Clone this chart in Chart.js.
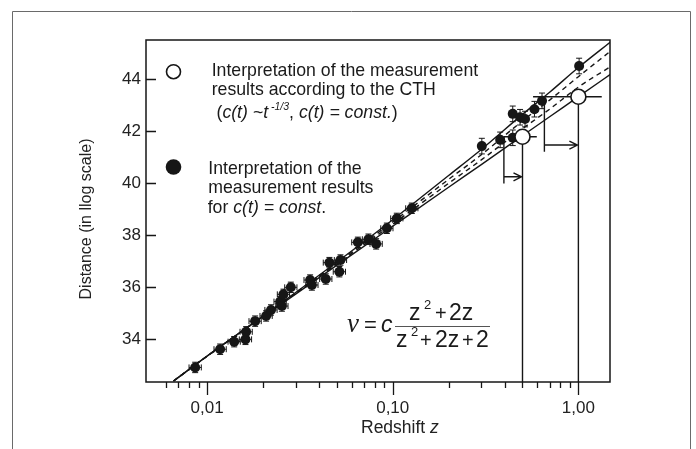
<!DOCTYPE html>
<html><head><meta charset="utf-8">
<script src="https://cdn.jsdelivr.net/npm/chart.js@4/dist/chart.umd.min.js"></script>
<style>html,body{margin:0;padding:0;background:#fff}#wrap{width:696px;height:449px;position:relative}</style>
</head><body><div id="wrap"><canvas id="c" width="696" height="449"></canvas></div>
<script>
// ---- data ----
const redshift = [0.00863,0.01176,0.0140,0.0161,0.01624,0.01815,0.0208,0.0221,0.02475,0.02579,0.02826,0.0253,0.0359,0.0367,0.0436,0.0456,0.0516,0.0523,0.0649,0.0740,0.0814,0.0930,0.1052,0.1267,0.302,0.379,0.443,0.485,0.516,0.443,0.580,0.637,1.009];
const distance = [32.92,33.62,33.91,34.00,34.29,34.70,34.90,35.13,35.45,35.73,36.00,35.28,36.28,36.09,36.32,36.95,36.60,37.05,37.73,37.85,37.67,38.27,38.65,39.04,41.43,41.67,42.67,42.54,42.47,41.75,42.85,43.17,44.51];
const distanceErr = [0.2,0.2,0.2,0.2,0.2,0.2,0.2,0.2,0.2,0.2,0.2,0.2,0.2,0.2,0.2,0.2,0.2,0.2,0.2,0.2,0.2,0.2,0.2,0.2,0.3,0.3,0.3,0.3,0.3,0.3,0.3,0.3,0.3];
const redshiftErrDex = [0.033,0.033,0.033,0.033,0.033,0.033,0.033,0.033,0.033,0.033,0.033,0.033,0.033,0.033,0.033,0.033,0.033,0.033,0.033,0.033,0.033,0.033,0.033,0.033,0,0,0,0,0,0,0,0,0];

const cthRedshift = [0.5, 1.0];
const cthDistance = [41.79, 43.33];

const curveRedshift = [0.0066,0.01,0.03,0.1,0.2,0.3,0.5,0.7,1.0,1.5];
const upperSolid  = [32.40,33.35,35.80,38.60,40.30,41.30,42.65,43.50,44.45,45.45];
const upperDashed = [32.40,33.35,35.79,38.52,40.15,41.10,42.40,43.20,44.10,45.10];
const lowerDashed = [32.40,33.35,35.77,38.43,40.00,40.90,42.10,42.85,43.70,44.50];
const lowerSolid  = [32.40,33.36,35.74,38.35,39.85,40.72,41.83,42.56,43.33,44.21];

const xTickValues = [0.006,0.007,0.008,0.009,0.01,0.02,0.03,0.04,0.05,0.06,0.07,0.08,0.09,0.1,0.2,0.3,0.4,0.5,0.6,0.7,0.8,0.9,1.0];
const xMajorValues = [0.01, 0.1, 1.0];
const xMajorLabels = ['0,01','0,10','1,00'];
const yTickValues = [34,36,38,40,42,44];

// annotation values (data units)
const bracketRedshift = [0.397, 0.656];
const bracketTop = [41.79, 43.27];
const bracketBottom = [39.99, 41.21];
const arrowDistance = [40.25, 41.47];
const hLineFrom = [0.397, 0.570];
const hLineTo = [0.597, 1.336];

const INK = '#161616';
const SANS = '"Liberation Sans", Arial, sans-serif';
const SERIF = '"Liberation Serif", "Times New Roman", serif';

function pts(xs, ys){ return xs.map((x,i)=>({x:x, y:ys[i]})); }

function runs(ctx, x, y, parts){
  // parts: [text, style, size, dy, family]
  let cx = x;
  for (const p of parts){
    ctx.font = (p[1]||'') + ' ' + (p[2]||17) + 'px ' + (p[4]||SANS);
    ctx.fillText(p[0], cx, y + (p[3]||0));
    cx += ctx.measureText(p[0]).width;
  }
  return cx;
}
function tok(ctx, text, x, y, font){ ctx.font = font; ctx.fillText(text, x, y); }

const decor = {
  id:'decor',
  beforeDatasetsDraw(chart){
    const ctx = chart.ctx, xs = chart.scales.x, ys = chart.scales.y, a = chart.chartArea;
    ctx.save();
    ctx.strokeStyle = INK; ctx.lineWidth = 1;
    // error bars
    redshift.forEach((z,i)=>{
      const px = xs.getPixelForValue(z), py = ys.getPixelForValue(distance[i]);
      const t = ys.getPixelForValue(distance[i]+distanceErr[i]), b = ys.getPixelForValue(distance[i]-distanceErr[i]);
      ctx.beginPath(); ctx.moveTo(px,t); ctx.lineTo(px,b);
      ctx.moveTo(px-3,t); ctx.lineTo(px+3,t); ctx.moveTo(px-3,b); ctx.lineTo(px+3,b);
      if (redshiftErrDex[i] > 0){
        const l = xs.getPixelForValue(z/Math.pow(10,redshiftErrDex[i])), r = xs.getPixelForValue(z*Math.pow(10,redshiftErrDex[i]));
        ctx.moveTo(l,py); ctx.lineTo(r,py);
        ctx.moveTo(l,py-3); ctx.lineTo(l,py+3); ctx.moveTo(r,py-3); ctx.lineTo(r,py+3);
      }
      ctx.stroke();
    });
    // CTH vertical drops and horizontal guide lines
    ctx.lineWidth = 1.4;
    cthRedshift.forEach((z,i)=>{
      const px = xs.getPixelForValue(z), py = ys.getPixelForValue(cthDistance[i]);
      ctx.beginPath(); ctx.moveTo(px,py); ctx.lineTo(px,a.bottom);
      ctx.moveTo(xs.getPixelForValue(hLineFrom[i]), py); ctx.lineTo(xs.getPixelForValue(hLineTo[i]), py);
      ctx.stroke();
      // bracket + arrow
      const bx = xs.getPixelForValue(bracketRedshift[i]);
      const ay = ys.getPixelForValue(arrowDistance[i]);
      ctx.beginPath();
      ctx.moveTo(bx, ys.getPixelForValue(bracketTop[i])); ctx.lineTo(bx, ys.getPixelForValue(bracketBottom[i]));
      ctx.moveTo(bx, ay); ctx.lineTo(px-1, ay);
      ctx.moveTo(px-9, ay-4); ctx.lineTo(px-1, ay); ctx.lineTo(px-9, ay+4);
      ctx.stroke();
    });
    ctx.restore();
  },
  afterDraw(chart){
    const ctx = chart.ctx, xs = chart.scales.x, ys = chart.scales.y, a = chart.chartArea;
    ctx.save();
    // outer frame
    ctx.strokeStyle = '#6a6a6a'; ctx.lineWidth = 1;
    ctx.beginPath(); ctx.moveTo(12.5, 460); ctx.lineTo(12.5, 11.5); ctx.lineTo(690.5, 11.5); ctx.lineTo(690.5, 460); ctx.stroke();
    // plot box
    ctx.strokeStyle = INK; ctx.lineWidth = 1.5;
    ctx.strokeRect(a.left, a.top, a.right - a.left, a.bottom - a.top);
    // x ticks
    ctx.lineWidth = 1.3;
    ctx.beginPath();
    xTickValues.forEach(v=>{
      const px = Math.round(xs.getPixelForValue(v)) + 0.5;
      const major = xMajorValues.some(m=>Math.abs(m-v)<1e-9);
      ctx.moveTo(px, a.bottom); ctx.lineTo(px, a.bottom + (major ? 13 : 6));
    });
    // y ticks
    yTickValues.forEach(v=>{
      const py = Math.round(ys.getPixelForValue(v)) + 0.5;
      ctx.moveTo(a.left, py); ctx.lineTo(a.left + 10, py);
    });
    ctx.stroke();
    ctx.fillStyle = '#222';
    ctx.textBaseline = 'alphabetic';
    // axis titles
    runs(ctx, 361, 433, [['Redshift ','',17.5],['z','italic',17.5]]);
    ctx.save();
    ctx.translate(91, 219); ctx.rotate(-Math.PI/2);
    ctx.font = '16px ' + SANS; ctx.textAlign = 'center';
    ctx.fillText('Distance (in llog scale)', 0, 0);
    ctx.restore();
    // legend
    ctx.lineWidth = 1.6; ctx.strokeStyle = INK;
    ctx.beginPath(); ctx.arc(173.5, 71.7, 7, 0, Math.PI*2); ctx.fillStyle='#fff'; ctx.fill(); ctx.stroke();
    ctx.fillStyle = INK;
    ctx.beginPath(); ctx.arc(173.5, 167, 7.8, 0, Math.PI*2); ctx.fill();
    ctx.fillStyle = '#1a1a1a';
    const LF = 17.7;
    runs(ctx, 211.7, 76, [['Interpretation of the measurement','',LF]]);
    runs(ctx, 211.7, 95.3, [['results according to the CTH','',LF]]);
    runs(ctx, 216.5, 117.5, [['(','',LF],['c(t) ~t','italic',LF],[' -1/3','italic',10.5,-8],[', ','',LF],['c(t) = const.','italic',LF],[')','',LF]]);
    runs(ctx, 208.3, 174.3, [['Interpretation of the','',LF]]);
    runs(ctx, 208.3, 192.7, [['measurement results','',LF]]);
    runs(ctx, 207.7, 213.3, [['for ','',LF],['c(t) = const','italic',LF],['.','',LF]]);
    // formula
    const F = '23px ' + SANS, FS = '13px ' + SANS;
    tok(ctx, 'v', 347, 332, 'italic 27px ' + SERIF);
    tok(ctx, '=', 364, 332, '22px ' + SANS);
    tok(ctx, 'c', 381, 332, 'italic 23px ' + SANS);
    tok(ctx, 'z', 409, 320, F); tok(ctx, '2', 424, 309, FS); tok(ctx, '+', 435, 320, '20px ' + SANS);
    tok(ctx, '2z', 449, 320, F);
    tok(ctx, 'z', 396, 347, F); tok(ctx, '2', 411, 336, FS); tok(ctx, '+', 420, 347, '20px ' + SANS);
    tok(ctx, '2z', 435, 347, F); tok(ctx, '+', 462, 347, '20px ' + SANS); tok(ctx, '2', 476, 347, F);
    ctx.strokeStyle = '#555'; ctx.lineWidth = 1;
    ctx.beginPath(); ctx.moveTo(395, 326.5); ctx.lineTo(490, 326.5); ctx.stroke();
    ctx.restore();
  }
};

const lineDs = (label, ys, dash, order) => ({
  label, data: pts(curveRedshift, ys), showLine:true, borderColor:INK, borderWidth:1.4,
  borderDash: dash, pointRadius:0, fill:false, cubicInterpolationMode:'monotone', order
});

new Chart(document.getElementById('c').getContext('2d'), {
  type:'scatter',
  data:{ datasets:[
    { label:'CTH', data: pts(cthRedshift, cthDistance), pointRadius:7.5, pointBackgroundColor:'#fff', pointBorderColor:INK, pointBorderWidth:1.6, order:0 },
    { label:'measurements', data: pts(redshift, distance), pointRadius:5, pointBackgroundColor:INK, pointBorderWidth:0, order:1 },
    lineDs('upper solid', upperSolid, [], 2),
    lineDs('upper dashed', upperDashed, [5,4], 3),
    lineDs('lower dashed', lowerDashed, [5,4], 4),
    lineDs('lower solid', lowerSolid, [], 5)
  ]},
  options:{
    responsive:false, animation:false, devicePixelRatio:1,
    layout:{ padding:{ left:71, top:40, right:86, bottom:0 } },
    plugins:{ legend:{display:false}, tooltip:{enabled:false} },
    scales:{
      x:{ type:'logarithmic', min:0.00469, max:1.48,
          grid:{display:false, drawTicks:false}, border:{display:false},
          afterFit(s){ s.height = 67; },
          afterBuildTicks(s){ s.ticks = xTickValues.map(v=>({value:v})); },
          ticks:{ autoSkip:false, maxRotation:0, padding:16, color:'#222', font:{family:SANS, size:17},
            callback(v){ const k = xMajorValues.findIndex(m=>Math.abs(m-v)<1e-9); return k>=0 ? xMajorLabels[k] : ''; } } },
      y:{ type:'linear', min:32.36, max:45.51,
          grid:{display:false, drawTicks:false}, border:{display:false},
          afterFit(s){ s.width = 75; },
          afterBuildTicks(s){ s.ticks = yTickValues.map(v=>({value:v})); },
          ticks:{ padding:5, color:'#222', font:{family:SANS, size:17}, callback(v){ return String(v); } } }
    }
  },
  plugins:[decor]
});
</script></body></html>
